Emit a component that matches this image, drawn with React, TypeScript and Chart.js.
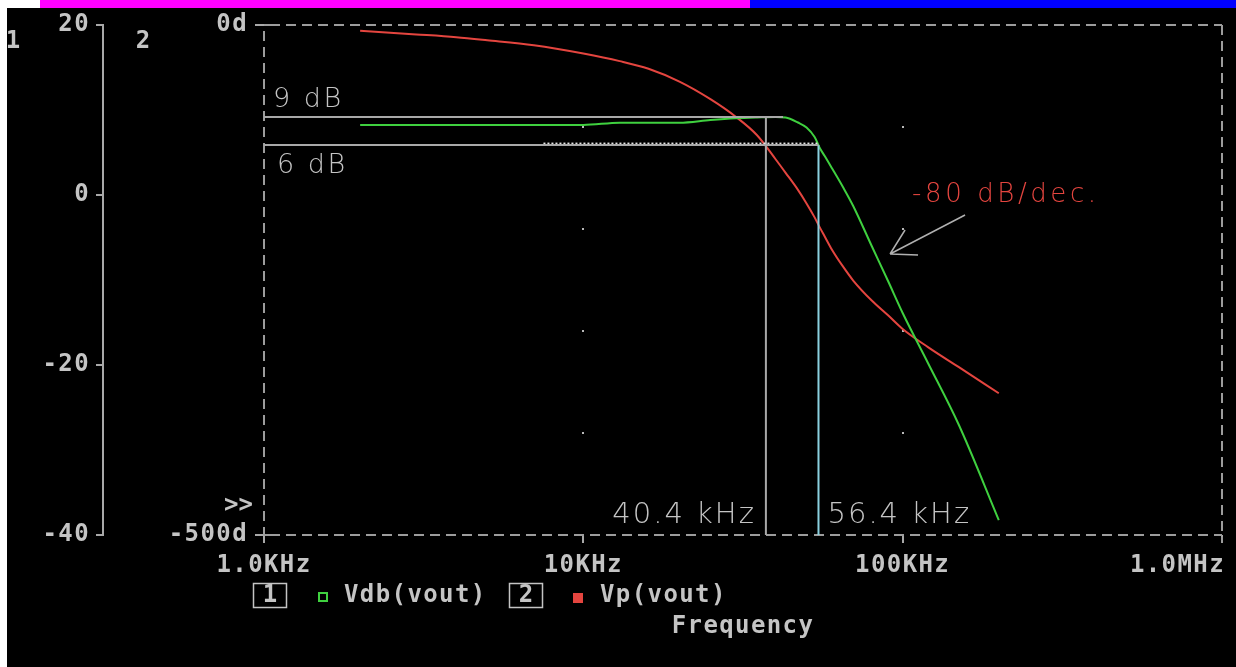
import React, { useEffect, useRef } from 'react';
import { Chart, registerables } from 'chart.js';

Chart.register(...registerables);

// ---------- data ----------
const freqHz = [2000, 3000, 4000, 5000, 7000, 10000, 13000, 16000, 20000, 25000, 30000, 35000, 40000, 43000, 47000, 50000, 53000, 55000, 57000, 60000, 65000, 70000, 80000, 90000, 100000, 120000, 150000, 200000];
const vdbValues = [8.24, 8.24, 8.24, 8.24, 8.24, 8.24, 8.51, 8.51, 8.51, 8.82, 9.02, 9.12, 9.18, 9.12, 8.53, 7.94, 6.82, 5.53, 4.59, 3.18, 0.94, -1.29, -6.0, -10.12, -13.88, -19.76, -27.06, -38.24];
const vpValues = [-5.7, -9.2, -11.9, -14.9, -19.9, -28.0, -35.4, -42.9, -55.5, -72.7, -89.9, -108.1, -131.6, -144.9, -161.6, -174.9, -188.6, -198.4, -207.3, -220.0, -236.7, -250.5, -270.1, -284.6, -298.0, -315.8, -335.5, -361.0];
const seriesLabels = ['Vdb(vout)', 'Vp(vout)'];

const xTickValues = [1000, 10000, 100000, 1000000];
const xTickLabels = ['1.0KHz', '10KHz', '100KHz', '1.0MHz'];
const phaseTickValues = [0, -500];
const phaseTickLabels = ['0d', '-500d'];
const phaseGridValues = [-100, -200, -300, -400];
const xGridValues = [10000, 100000];

// cursor / annotation values
const level9 = 9.18;
const level6 = 5.88;
const level9EndFreq = 42200;
const dottedStartFreq = 7500;
const cursorFreqA = 37300;
const cursorFreqB = 54500;
const cursorLabels = ['40.4 kHz', '56.4 kHz'];
const levelLabels = ['9 dB', '6 dB'];
const slopeLabel = '-80 dB/dec.';
const slopeLabelAt = [107000, -0.82];
const arrowFrom = [156800, -2.35];
const arrowTo = [91300, -6.94];

// ---------- style ----------
const GREEN = '#3fd03f';
const RED = '#e4453f';
const TEXT = '#c4c4c4';
const LINE = '#a8a8a8';
const FRAME = '#9c9c9c';
const CYAN = '#8ad0df';
const MONO = { family: '"DejaVu Sans Mono", monospace', size: 24, weight: 'bold' as const };
const MONO_CSS = 'bold 24px "DejaVu Sans Mono", monospace';

function drawText(ctx: CanvasRenderingContext2D, s: string, x: number, y: number, font: string, color: string, align: CanvasTextAlign, baseline: CanvasTextBaseline, spacing: number) {
  ctx.save();
  ctx.font = font;
  (ctx as any).letterSpacing = spacing + 'px';
  ctx.fillStyle = color;
  ctx.textAlign = align;
  ctx.textBaseline = baseline;
  ctx.fillText(s, x, y);
  ctx.restore();
}

const pspicePlugin = {
  id: 'pspice',
  beforeDraw(chart: any) {
    const { ctx, width, height } = chart;
    ctx.save();
    ctx.fillStyle = '#ffffff';
    ctx.fillRect(0, 0, width, height);
    ctx.fillStyle = '#000000';
    ctx.fillRect(7, 8, width - 7, height - 8);
    ctx.fillStyle = '#ff00ff';
    ctx.fillRect(40, 0, 710, 8);
    ctx.fillStyle = '#0000ff';
    ctx.fillRect(750, 0, width - 750, 8);
    ctx.restore();
    (ctx as any).letterSpacing = '1.4px';
  },
  beforeDatasetsDraw(chart: any) {
    const { ctx, chartArea: a, scales } = chart;
    ctx.save();
    ctx.strokeStyle = FRAME;
    ctx.lineWidth = 2;
    ctx.setLineDash([10, 6]);
    const seg = (x1: number, y1: number, x2: number, y2: number) => {
      ctx.beginPath();
      ctx.moveTo(x1, y1);
      ctx.lineTo(x2, y2);
      ctx.stroke();
    };
    seg(a.left + 6, a.top, a.right, a.top);
    seg(a.right, a.top, a.right, a.bottom + 8);
    seg(a.left + 6, a.bottom, a.right, a.bottom);
    seg(a.left, a.top + 6, a.left, a.bottom);
    ctx.setLineDash([]);
    // inner parts of the phase-axis end ticks
    seg(a.left, a.top, a.left + 6, a.top);
    seg(a.left, a.bottom, a.left + 6, a.bottom);
    // grid dots
    ctx.fillStyle = '#b8b8b8';
    for (const f of xGridValues) {
      const x = scales.x.getPixelForValue(f);
      for (const p of phaseGridValues) {
        const y = scales.y2.getPixelForValue(p);
        ctx.fillRect(Math.round(x) - 1, Math.round(y) - 1, 2, 2);
      }
    }
    ctx.restore();
  },
  afterDraw(chart: any) {
    const { ctx, chartArea: a, scales } = chart;
    const xs = scales.x;
    const y1 = scales.y1;
    // x tick labels
    xTickValues.forEach((v, i) => {
      const x = xs.getPixelForValue(v);
      const last = i === xTickValues.length - 1;
      drawText(ctx, xTickLabels[i], last ? x + 3 : x, a.bottom + 31, MONO_CSS, TEXT, last ? 'right' : 'center', 'middle', 1.4);
    });
    // axis numbers and selection marker
    drawText(ctx, '1', 13, 42, MONO_CSS, TEXT, 'center', 'middle', 0);
    drawText(ctx, '2', 143, 42, MONO_CSS, TEXT, 'center', 'middle', 0);
    drawText(ctx, '>>', a.left - 11, a.bottom - 29, MONO_CSS, TEXT, 'right', 'middle', 0);
    // legend
    const ly = a.bottom + 61;
    const datasets = chart.data.datasets;
    ctx.save();
    ctx.strokeStyle = TEXT;
    ctx.lineWidth = 1.5;
    ctx.strokeRect(a.left - 10.5, ly - 12.5, 33, 24);
    ctx.strokeRect(a.left + 245.5, ly - 12.5, 33, 24);
    ctx.strokeStyle = datasets[0].borderColor;
    ctx.lineWidth = 2;
    ctx.strokeRect(a.left + 55, ly - 3, 8, 8);
    ctx.fillStyle = datasets[1].borderColor;
    ctx.fillRect(a.left + 309, ly - 3, 10, 10);
    ctx.restore();
    drawText(ctx, '1', a.left + 6, ly, MONO_CSS, TEXT, 'center', 'middle', 0);
    drawText(ctx, '2', a.left + 262, ly, MONO_CSS, TEXT, 'center', 'middle', 0);
    drawText(ctx, datasets[0].label, a.left + 80, ly, MONO_CSS, TEXT, 'left', 'middle', 1.4);
    drawText(ctx, datasets[1].label, a.left + 336, ly, MONO_CSS, TEXT, 'left', 'middle', 1.4);
    drawText(ctx, 'Frequency', (a.left + a.right) / 2, a.bottom + 92, MONO_CSS, TEXT, 'center', 'middle', 1.4);

    // annotations
    const thin = (px: number) => `200 ${px}px "DejaVu Sans", sans-serif`;
    const yl9 = y1.getPixelForValue(level9);
    const yl6 = y1.getPixelForValue(level6);
    drawText(ctx, levelLabels[0], a.left + 9, yl9 - 10, thin(27), TEXT, 'left', 'alphabetic', 2.5);
    drawText(ctx, levelLabels[1], a.left + 13, yl6 + 28, thin(27), TEXT, 'left', 'alphabetic', 2.5);
    const xA = xs.getPixelForValue(cursorFreqA);
    const xB = xs.getPixelForValue(cursorFreqB);
    drawText(ctx, cursorLabels[0], xA - 10, a.bottom - 12, thin(29), TEXT, 'right', 'alphabetic', 2);
    drawText(ctx, cursorLabels[1], xB + 9, a.bottom - 12, thin(29), TEXT, 'left', 'alphabetic', 2);
    drawText(ctx, slopeLabel, xs.getPixelForValue(slopeLabelAt[0]), y1.getPixelForValue(slopeLabelAt[1]), thin(26), RED, 'left', 'alphabetic', 3.6);
    // arrow
    const fx = xs.getPixelForValue(arrowFrom[0]);
    const fy = y1.getPixelForValue(arrowFrom[1]);
    const tx = xs.getPixelForValue(arrowTo[0]);
    const ty = y1.getPixelForValue(arrowTo[1]);
    ctx.save();
    ctx.strokeStyle = '#b0b0b0';
    ctx.lineWidth = 1.5;
    ctx.beginPath();
    ctx.moveTo(fx, fy);
    ctx.lineTo(tx, ty);
    ctx.moveTo(tx, ty);
    ctx.lineTo(tx + 15, ty - 24);
    ctx.moveTo(tx, ty);
    ctx.lineTo(tx + 28, ty + 1);
    ctx.stroke();
    ctx.restore();
  },
};

export default function App() {
  const ref = useRef<HTMLCanvasElement | null>(null);
  useEffect(() => {
    if (!ref.current) return;
    const pts = (ys: number[]) => freqHz.map((f, i) => ({ x: f, y: ys[i] }));
    const seg = (x1: number, v1: number, x2: number, v2: number) => [{ x: x1, y: v1 }, { x: x2, y: v2 }];
    const lineBase = { pointRadius: 0, borderWidth: 2, yAxisID: 'y1', order: 0, fill: false };
    const chart = new Chart(ref.current, {
      type: 'line',
      data: {
        datasets: [
          { label: seriesLabels[0], data: pts(vdbValues), yAxisID: 'y1', borderColor: GREEN, backgroundColor: GREEN, borderWidth: 2, pointRadius: 0, cubicInterpolationMode: 'monotone', order: 2 },
          { label: seriesLabels[1], data: pts(vpValues), yAxisID: 'y2', borderColor: RED, backgroundColor: RED, borderWidth: 2, pointRadius: 0, cubicInterpolationMode: 'monotone', order: 2 },
          { ...lineBase, label: levelLabels[0], data: seg(1000, level9, level9EndFreq, level9), borderColor: LINE },
          { ...lineBase, label: levelLabels[1], data: seg(1000, level6, cursorFreqB, level6), borderColor: LINE },
          { ...lineBase, label: 'marker', data: seg(dottedStartFreq, level6 + 0.2, cursorFreqB, level6 + 0.2), borderColor: '#e6e6e6', borderWidth: 1.5, borderDash: [2, 2] },
          { ...lineBase, label: cursorLabels[0], data: seg(cursorFreqA, level9, cursorFreqA, -40), borderColor: LINE },
          { ...lineBase, label: cursorLabels[1], data: seg(cursorFreqB, level6, cursorFreqB, -40), borderColor: CYAN },
        ] as any,
      },
      options: {
        animation: false,
        responsive: false,
        maintainAspectRatio: false,
        parsing: false as any,
        layout: { padding: { left: 7, top: 25, right: 14, bottom: 0 } },
        plugins: { legend: { display: false }, tooltip: { enabled: false } },
        scales: {
          x: {
            type: 'logarithmic',
            position: 'bottom',
            min: 1000,
            max: 1000000,
            afterBuildTicks: (s: any) => { s.ticks = xTickValues.map((v) => ({ value: v })); },
            ticks: { display: false },
            grid: { drawOnChartArea: false, tickLength: 8, color: LINE, lineWidth: 2 },
            border: { display: false },
            afterFit: (s: any) => { s.height = 132; s.paddingLeft = 0; s.paddingRight = 0; },
          },
          y1: {
            type: 'linear',
            position: 'left',
            weight: 2,
            min: -40,
            max: 20,
            ticks: { stepSize: 20, color: TEXT, font: MONO, padding: 6 },
            grid: { drawOnChartArea: false, tickLength: 7, color: LINE, lineWidth: 2 },
            border: { display: true, color: LINE, width: 2 },
            afterFit: (s: any) => { s.width = 96; s.paddingTop = 0; s.paddingBottom = 0; },
          },
          y2: {
            type: 'linear',
            position: 'left',
            weight: 1,
            min: -500,
            max: 0,
            afterBuildTicks: (s: any) => { s.ticks = phaseTickValues.map((v) => ({ value: v })); },
            ticks: {
              color: TEXT,
              font: MONO,
              padding: 7,
              callback: (v: any) => { const i = phaseTickValues.indexOf(Number(v)); return i >= 0 ? phaseTickLabels[i] : ''; },
            },
            grid: { drawOnChartArea: false, tickLength: 9, color: LINE, lineWidth: 2 },
            border: { display: false },
            afterFit: (s: any) => { s.width = 161; s.paddingTop = 0; s.paddingBottom = 0; },
          },
        } as any,
      },
      plugins: [pspicePlugin as any],
    });
    return () => chart.destroy();
  }, []);
  return (
    <div style={{ position: 'absolute', left: 0, top: 0, width: 1236, height: 667 }}>
      <canvas ref={ref} width={1236} height={667} style={{ display: 'block' }} />
    </div>
  );
}
